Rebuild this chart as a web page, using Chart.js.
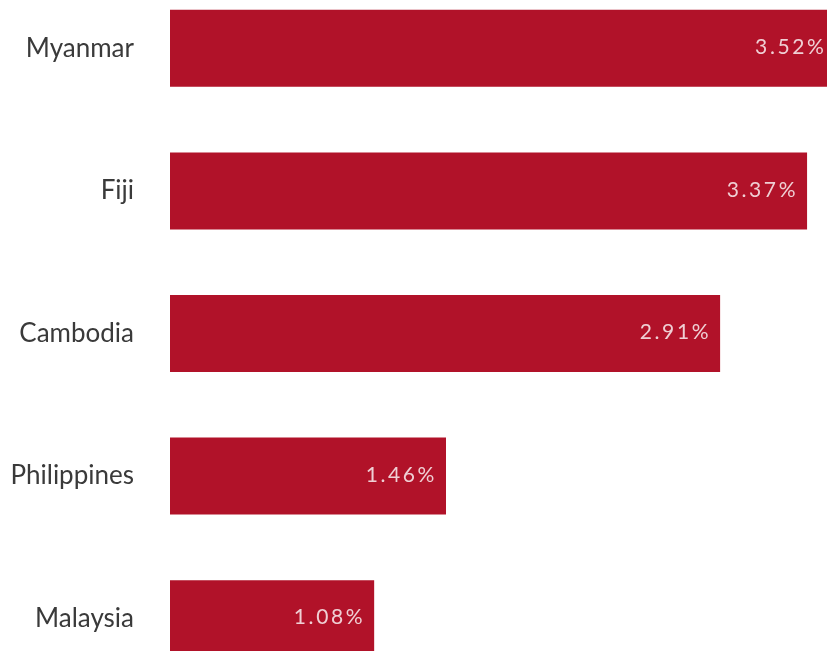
<!DOCTYPE html>
<html><head><meta charset="utf-8">
<script src="https://cdn.jsdelivr.net/npm/chart.js@4"></script>
<style>
html,body{margin:0;padding:0;background:#fff;overflow:hidden;width:827px;height:651px;}
#wrap{position:absolute;left:0;top:-23px;width:860px;height:713px;}
</style></head><body>
<div id="wrap"><canvas id="c" width="860" height="713"></canvas></div>
<script>
const categories = ["Myanmar", "Fiji", "Cambodia", "Philippines", "Malaysia"];
const values = [3.52, 3.37, 2.91, 1.46, 1.08];
const valueLabels = ["3.52%", "3.37%", "2.91%", "1.46%", "1.08%"];

const labelPlugin = {
  id: 'valueLabels',
  afterDatasetsDraw(chart) {
    const ctx = chart.ctx;
    const meta = chart.getDatasetMeta(0);
    ctx.save();
    ctx.font = '21px Lato, "Noto Sans", sans-serif';
    try { ctx.letterSpacing = '2.6px'; } catch (e) {}
    ctx.fillStyle = 'rgba(255,255,255,0.8)';
    ctx.textAlign = 'right';
    ctx.textBaseline = 'middle';
    meta.data.forEach((bar, i) => {
      ctx.fillText(valueLabels[i], bar.x - 9, bar.y - 1);
    });
    ctx.restore();
  }
};

new Chart(document.getElementById('c'), {
  type: 'bar',
  data: {
    labels: categories,
    datasets: [{
      data: values,
      backgroundColor: '#B11229',
      borderWidth: 0,
      categoryPercentage: 1,
      barPercentage: 0.54
    }]
  },
  options: {
    indexAxis: 'y',
    responsive: false,
    animation: false,
    layout: { padding: 0 },
    plugins: { legend: { display: false }, tooltip: { enabled: false } },
    scales: {
      x: { display: false, min: 0, max: 3.65 },
      y: {
        grid: { display: false, drawTicks: false },
        border: { display: false },
        ticks: { color: '#3a3a3a', font: { family: 'Lato, "Noto Sans", sans-serif', size: 26 }, padding: 36 },
        afterFit(scale) { scale.width = 170; scale.paddingTop = 0; scale.paddingBottom = 0; }
      }
    }
  },
  plugins: [labelPlugin]
});
</script></body></html>
